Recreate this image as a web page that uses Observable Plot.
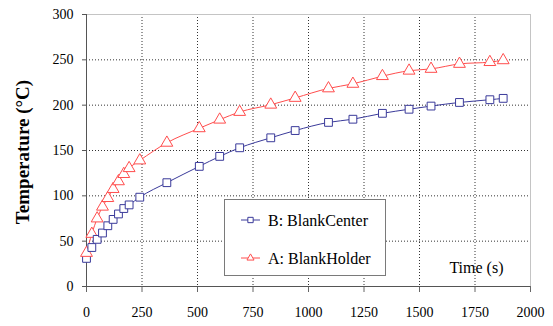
<!DOCTYPE html>
<html>
<head>
<meta charset="utf-8">
<script src="https://cdn.jsdelivr.net/npm/d3@7"></script>
<script src="https://cdn.jsdelivr.net/npm/@observablehq/plot@0.6"></script>
<style>
  body { margin: 0; background: #fff; }
  #chart { width: 553px; height: 326px; }
</style>
</head>
<body>
<div id="chart"></div>
<script>
// Heating curves: temperature at the blank centre and at the blank holder over time
const times = [0, 24, 48, 72, 96, 120, 144, 168, 192, 240, 362, 508, 600, 690, 830, 940, 1090, 1200, 1333, 1453, 1552, 1680, 1817, 1877];
const blankCenter = [31, 43, 52, 59, 67, 74, 80, 86, 90, 98.5, 114.5, 132.5, 143.5, 153, 164, 172, 181, 184.5, 191, 195.5, 199, 203, 206, 207.5];
const blankHolder = [37, 58, 75, 88, 97.5, 107.5, 116, 124, 130.5, 139, 158.5, 174.5, 184, 192.5, 200.5, 208, 218.5, 223.5, 232, 238, 240, 245.5, 247.5, 249.5];

const seriesNames = ["B: BlankCenter", "A: BlankHolder"];
const seriesColors = ["#3a3a9a", "#ff4d4d"];
const seriesSymbols = ["square", "triangle"];
const xTicks = [0, 250, 500, 750, 1000, 1250, 1500, 1750, 2000];
const yTicks = [0, 50, 100, 150, 200, 250, 300];
const xLabel = "Time (s)";
const yLabel = "Temperature (°C)";

const rows = times.flatMap((t, i) => [
  {t, temp: blankCenter[i], series: seriesNames[0]},
  {t, temp: blankHolder[i], series: seriesNames[1]}
]);

const font = '"Liberation Serif", "Times New Roman", serif';
const gridStyle = {stroke: "#333", strokeDasharray: "1,2", strokeWidth: 1};

const chart = Plot.plot({
  width: 553,
  height: 326,
  marginLeft: 86,
  marginRight: 23,
  marginTop: 14,
  marginBottom: 40,
  style: {fontSize: "14px", color: "#000", background: "#fff"},
  x: {domain: [0, 2000]},
  y: {domain: [0, 300]},
  color: {domain: seriesNames, range: seriesColors},
  symbol: {domain: seriesNames, range: seriesSymbols},
  marks: [
    Plot.ruleX(xTicks.filter(d => d > 0 && d < 2000), gridStyle),
    Plot.ruleY(yTicks.filter(d => d > 0 && d < 300), gridStyle),
    Plot.ruleX([2000], {stroke: "#c4c4c4"}),
    Plot.ruleY([300], {stroke: "#c4c4c4"}),
    Plot.axisX({ticks: xTicks, tickFormat: d => String(d), tickSize: 6, tickPadding: 15, label: null, stroke: "#666", fill: "#000"}),
    Plot.axisY({ticks: yTicks, tickFormat: d => String(d), tickSize: 4, tickPadding: 9, label: null, stroke: "#555", fill: "#000"}),
    Plot.ruleX([0], {stroke: "#555"}),
    Plot.ruleY([0], {stroke: "#555"}),
    Plot.line(rows, {x: "t", y: "temp", stroke: "series", curve: "monotone-x", strokeWidth: 1}),
    Plot.dot(rows, {x: "t", y: "temp", stroke: "series", symbol: "series", fill: "white", r: 4.4, strokeWidth: 1}),
    Plot.text([xLabel], {frameAnchor: "bottom-right", dx: -27, dy: -19, fontSize: 16, textAnchor: "end", lineAnchor: "middle"})
  ]
});

const svg = d3.select(chart);

// Rotated y-axis title
svg.append("text")
  .attr("transform", "translate(22,152) rotate(-90)")
  .attr("text-anchor", "middle")
  .attr("dominant-baseline", "central")
  .attr("font-size", 19)
  .attr("font-weight", "bold")
  .attr("fill", "#000")
  .text(yLabel);

// Boxed legend inside the plot area
const legend = svg.append("g").attr("font-size", 16).attr("text-anchor", "start");
legend.append("rect")
  .attr("x", 224.5).attr("y", 199.5).attr("width", 161).attr("height", 76)
  .attr("fill", "#fff").attr("stroke", "#7a7a7a");
const rowY = [220, 258];
const symbolPath = {
  square: d3.symbol(d3.symbolSquare2, 36)(),
  triangle: d3.symbol(d3.symbolTriangle2, 36)()
};
seriesNames.forEach((name, i) => {
  const g = legend.append("g");
  g.append("line").attr("x1", 241).attr("x2", 260).attr("y1", rowY[i]).attr("y2", rowY[i])
    .attr("stroke", seriesColors[i]);
  g.append("path").attr("d", symbolPath[seriesSymbols[i]])
    .attr("transform", `translate(250.5,${rowY[i]})`)
    .attr("fill", "#fff").attr("stroke", seriesColors[i]);
  g.append("text").attr("x", 268).attr("y", rowY[i]).attr("dominant-baseline", "central")
    .attr("fill", "#000").text(name);
});

// Serif face for every label in the figure
svg.selectAll("text").style("font-family", font);

document.getElementById("chart").appendChild(chart);
</script>
</body>
</html>
